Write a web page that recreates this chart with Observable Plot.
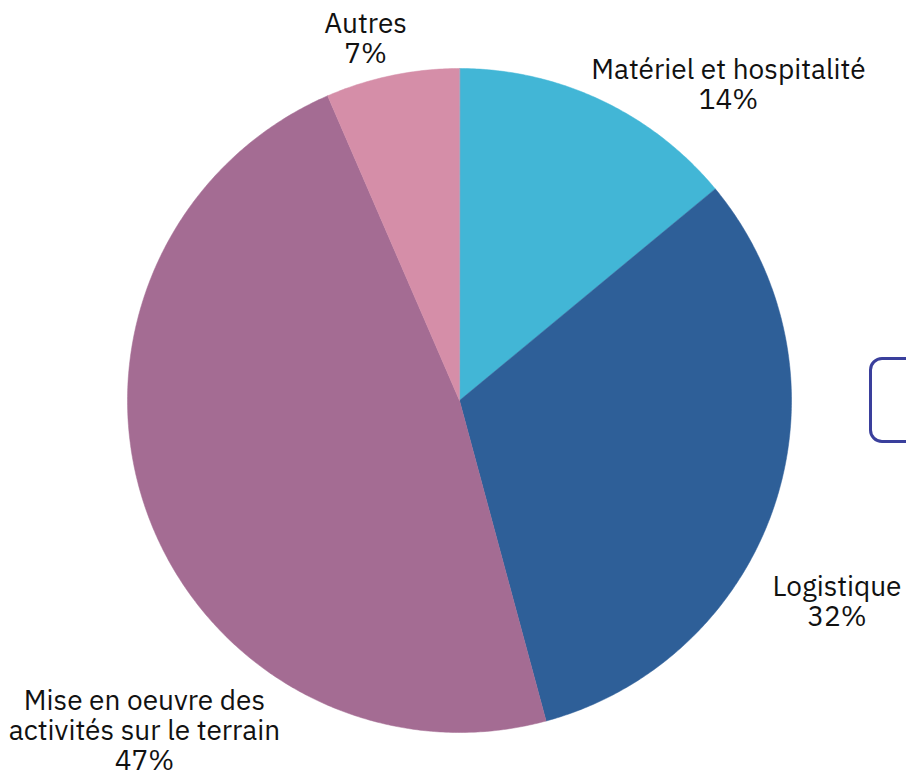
<!DOCTYPE html>
<html>
<head>
<meta charset="utf-8">
<script src="https://cdn.jsdelivr.net/npm/d3@7"></script>
<script src="https://cdn.jsdelivr.net/npm/@observablehq/plot@0.6"></script>
<style>
  html, body { margin: 0; padding: 0; background: #ffffff; }
  #wrap { position: relative; width: 906px; height: 774px; overflow: hidden; }
  #box { position: absolute; left: 869px; top: 357px; width: 100px; height: 80px;
         border: 3.5px solid #3A3F9C; border-radius: 13px; }
</style>
</head>
<body>
<div id="wrap"><div id="box"></div></div>
<script>
// Data (clockwise from 12 o'clock)
const categories = ["Matériel et hospitalité", "Logistique", "Mise en oeuvre des\nactivités sur le terrain", "Autres"];
const values = [14.0, 31.8, 47.7, 6.5];
const percentLabels = ["14%", "32%", "47%", "7%"];
const colors = ["#42B6D6", "#2E5F98", "#A46C93", "#D58EA8"];
// label placement (in pie-radius units, center = 0,0)
const labelLayout = [[0.810, 0.952], [1.137, -0.605], [-0.949, -0.994], [-0.283, 1.090]];

const rows = categories.map((c, i) => ({cat: c, value: values[i]}));
const arcs = d3.pie().sort(null).value(d => d.value).startAngle(0).endAngle(2 * Math.PI)(rows);

const pts = [];
for (const a of arcs) {
  pts.push({cat: a.data.cat, x: 0, y: 0});
  const n = Math.max(2, Math.ceil((a.endAngle - a.startAngle) / (Math.PI / 360)));
  for (let k = 0; k <= n; k++) {
    const t = a.startAngle + (a.endAngle - a.startAngle) * k / n;
    pts.push({cat: a.data.cat, x: Math.sin(t), y: Math.cos(t)});
  }
}

const labels = categories.map((c, i) => ({
  text: c + "\n" + percentLabels[i], x: labelLayout[i][0], y: labelLayout[i][1]
}));

const chart = Plot.plot({
  width: 906,
  height: 774,
  margin: 0,
  x: {domain: [-1, 1], range: [127, 791], axis: null},
  y: {domain: [-1, 1], range: [732, 68], axis: null},
  color: {domain: categories, range: colors},
  style: {fontFamily: "'IBM Plex Sans', 'Noto Sans', sans-serif", background: "transparent", overflow: "visible"},
  marks: [
    Plot.line(pts, {x: "x", y: "y", z: "cat", fill: "cat", stroke: "cat", strokeWidth: 0.5, curve: "linear-closed"}),
    Plot.text(labels, {x: "x", y: "y", text: "text", fontSize: 28, lineHeight: 1.07,
      textAnchor: "middle", lineAnchor: "middle", fill: "#111111"})
  ]
});
chart.style.position = "absolute";
chart.style.left = "0px";
chart.style.top = "0px";
document.getElementById("wrap").prepend(chart);
</script>
</body>
</html>
